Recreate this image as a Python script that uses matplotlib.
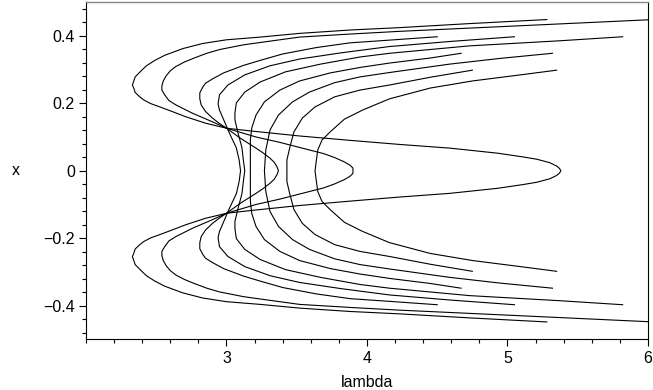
import numpy as np
import matplotlib
matplotlib.use("Agg")
import matplotlib.pyplot as plt
from matplotlib.ticker import FixedLocator, MultipleLocator

# upper halves (x >= 0) of the nine response curves;
# each curve is mirrored to x < 0 when drawn
LAM_V1 = [5.38, 5.37, 5.35, 5.30, 5.21, 5.11, 4.93, 4.59, 4.23, 3.88, 3.52, 3.17, 3.00,
          2.85, 2.71, 2.61, 2.52, 2.46, 2.41, 2.38, 2.35, 2.34, 2.33, 2.34, 2.35, 2.38,
          2.43, 2.49, 2.56, 2.69, 2.83, 3.00, 3.24, 3.52, 3.88, 4.23, 4.73, 5.28]
X_V1 = [0, 0.007, 0.014, 0.024, 0.034, 0.041, 0.052, 0.067, 0.078, 0.090, 0.103, 0.118,
        0.126, 0.141, 0.160, 0.176, 0.190, 0.199, 0.210, 0.220, 0.232, 0.245, 0.254,
        0.266, 0.278, 0.291, 0.311, 0.327, 0.342, 0.362, 0.377, 0.388, 0.396, 0.407,
        0.417, 0.424, 0.436, 0.448]

LAM_V2 = [3.90, 3.90, 3.88, 3.84, 3.77, 3.69, 3.52, 3.38, 3.21, 3.00, 2.90, 2.76, 2.64,
          2.59, 2.56, 2.54, 2.54, 2.55, 2.57, 2.60, 2.64, 2.70, 2.77, 2.86, 2.95, 3.12,
          3.24, 3.52, 3.88, 4.23, 4.75, 5.37, 5.99, 6.23]
X_V2 = [0, 0.008, 0.016, 0.026, 0.039, 0.051, 0.069, 0.084, 0.100, 0.126, 0.145, 0.170,
        0.195, 0.208, 0.225, 0.239, 0.251, 0.266, 0.281, 0.296, 0.309, 0.322, 0.334,
        0.348, 0.359, 0.373, 0.380, 0.396, 0.405, 0.413, 0.423, 0.435, 0.447, 0.451]

LAM_V3 = [3.37, 3.36, 3.34, 3.31, 3.26, 3.21, 3.10, 3.00, 2.95, 2.90, 2.85, 2.82, 2.81,
          2.81, 2.83, 2.85, 2.90, 2.98, 3.12, 3.24, 3.40, 3.64, 3.88, 4.16, 4.50]
X_V3 = [0, 0.011, 0.025, 0.037, 0.053, 0.067, 0.096, 0.126, 0.140, 0.156, 0.176, 0.195,
        0.213, 0.231, 0.247, 0.259, 0.272, 0.290, 0.312, 0.327, 0.346, 0.365, 0.379,
        0.387, 0.397]

LAM_C4 = [3.10, 3.09, 3.07, 3.02, 2.98, 2.95, 2.94, 2.95, 3.01, 3.13, 3.31, 3.52, 3.81,
          4.16, 4.59, 5.05]
X_C4 = [0, 0.032, 0.068, 0.112, 0.151, 0.180, 0.198, 0.225, 0.254, 0.284, 0.311, 0.331,
        0.349, 0.368, 0.383, 0.397]

LAM_C5 = [3.13, 3.12, 3.11, 3.08, 3.06, 3.06, 3.07, 3.13, 3.24, 3.42, 3.67, 3.95, 4.16,
          4.73, 5.37, 5.82]
X_C5 = [0, 0.032, 0.068, 0.115, 0.151, 0.171, 0.201, 0.233, 0.263, 0.293, 0.316, 0.337,
        0.348, 0.370, 0.385, 0.397]

LAM_C6 = [3.17, 3.17, 3.17, 3.18, 3.21, 3.27, 3.38, 3.52, 3.74, 3.95, 4.16, 4.45, 4.67]
X_C6 = [0, 0.047, 0.091, 0.127, 0.165, 0.204, 0.239, 0.266, 0.290, 0.306, 0.319, 0.334,
        0.348]

LAM_C7 = [3.27, 3.275, 3.28, 3.31, 3.37, 3.47, 3.59, 3.77, 3.95, 4.16, 4.59, 4.95, 5.32]
X_C7 = [0, 0.032, 0.062, 0.121, 0.165, 0.204, 0.233, 0.261, 0.278, 0.291, 0.316, 0.333,
        0.348]

LAM_C8 = [3.43, 3.43, 3.45, 3.48, 3.54, 3.63, 3.77, 3.95, 4.16, 4.45, 4.75]
X_C8 = [0, 0.032, 0.068, 0.115, 0.156, 0.189, 0.219, 0.239, 0.254, 0.277, 0.298]

LAM_C9 = [3.63, 3.64, 3.65, 3.68, 3.74, 3.84, 3.97, 4.16, 4.45, 4.75, 5.11, 5.35]
X_C9 = [0, 0.032, 0.062, 0.091, 0.116, 0.153, 0.180, 0.213, 0.245, 0.266, 0.285, 0.298]

CURVES = [(LAM_V1, X_V1), (LAM_V2, X_V2), (LAM_V3, X_V3), (LAM_C4, X_C4), (LAM_C5, X_C5),
          (LAM_C6, X_C6), (LAM_C7, X_C7), (LAM_C8, X_C8), (LAM_C9, X_C9)]

Y_TICKS = [-0.4, -0.2, 0.0, 0.2, 0.4]
Y_TICK_LABELS = ["\u22120.4", "\u22120.2", "0", "0.2", "0.4"]
X_TICKS = [3, 4, 5, 6]
X_TICK_LABELS = ["3", "4", "5", "6"]

plt.rcParams["font.family"] = ["Liberation Sans", "DejaVu Sans"]

fig = plt.figure(figsize=(6.53, 3.90), dpi=100)
ax = fig.add_axes([0.1317, 0.1295, 0.8606, 0.8654])

for lam, xs in CURVES:
    lam = np.asarray(lam)
    xs = np.asarray(xs)
    # mirror the upper half to get the full symmetric curve
    full_lam = np.concatenate([lam[::-1], lam[1:]])
    full_x = np.concatenate([-xs[::-1], xs[1:]])
    ax.plot(full_lam, full_x, color="black", lw=0.8, solid_joinstyle="round")

ax.set_xlim(2, 6)
ax.set_ylim(-0.5, 0.5)

ax.xaxis.set_major_locator(FixedLocator(X_TICKS))
ax.set_xticklabels(X_TICK_LABELS)
ax.xaxis.set_minor_locator(MultipleLocator(0.2))
ax.yaxis.set_major_locator(FixedLocator(Y_TICKS))
ax.set_yticklabels(Y_TICK_LABELS)
ax.yaxis.set_minor_locator(MultipleLocator(0.04))

ax.tick_params(which="both", direction="out", top=False, right=False,
               labelsize=11.5, color="black")
ax.tick_params(which="major", length=5, width=0.8, pad=3)
ax.tick_params(which="minor", length=3, width=0.8)

for side in ("left", "bottom", "right"):
    ax.spines[side].set_linewidth(0.8)
    ax.spines[side].set_color("black")
ax.spines["top"].set_color("#888888")
ax.spines["top"].set_linewidth(1.0)

ax.set_xlabel("lambda", fontsize=11.5, labelpad=7)
ax.set_ylabel("x", fontsize=11.5, rotation=0, labelpad=20, va="center")

fig.savefig("out.png", dpi=100)
